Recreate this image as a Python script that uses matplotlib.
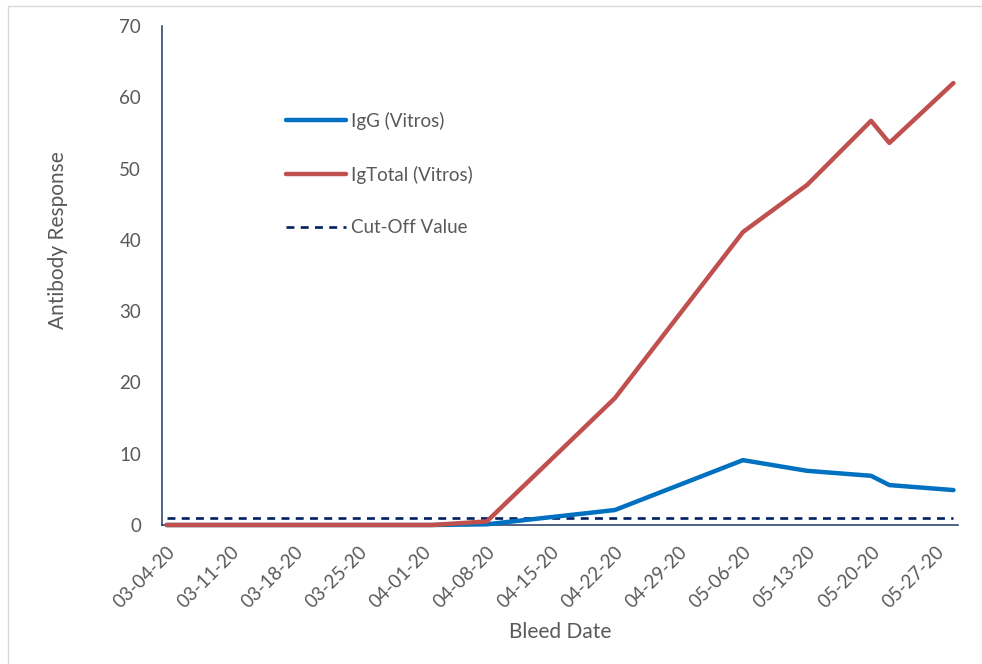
import matplotlib
matplotlib.use("Agg")
import matplotlib.pyplot as plt
import matplotlib.dates as mdates
from matplotlib.patches import Rectangle
import numpy as np

# bleed dates and antibody readings
bleed_dates = ["2020-03-04", "2020-04-02", "2020-04-08", "2020-04-22", "2020-05-06",
               "2020-05-13", "2020-05-20", "2020-05-22", "2020-05-29"]
igg_vitros = [0, 0, 0.1, 2.1, 9.1, 7.6, 6.9, 5.6, 4.9]
igtotal_vitros = [0, 0, 0.5, 17.8, 41.1, 47.7, 56.7, 53.6, 62.0]
cutoff_value = 1.0
tick_start = "2020-03-04"
tick_end = "2020-05-27"

plt.rcParams["font.family"] = ["Lato", "DejaVu Sans"]
txt_color = "#595959"
axis_color = "#1F3864"

dates = np.array(bleed_dates, dtype="datetime64[D]")

fig = plt.figure(figsize=(9.82, 6.64), dpi=100)
ax = fig.add_axes([162 / 982, 1 - 525 / 664, 796 / 982, 499 / 664])

# chart area border
fig.add_artist(Rectangle((8 / 982, -0.1), 1.2, 1.1 - 6 / 664, transform=fig.transFigure,
                         fill=False, edgecolor="#D9D9D9", linewidth=1))

ax.plot(dates, igg_vitros, color="#0070C0", lw=3.2, label="IgG (Vitros)",
        solid_capstyle="round", solid_joinstyle="round", clip_on=False, zorder=3)
ax.plot(dates, igtotal_vitros, color="#C0504D", lw=3.2, label="IgTotal (Vitros)",
        solid_capstyle="round", solid_joinstyle="round", clip_on=False, zorder=4)
ax.plot([dates[0], dates[-1]], [cutoff_value, cutoff_value], color="#002060", lw=1.9,
        linestyle=(0, (3.0, 2.4)), label="Cut-Off Value", zorder=2)

ax.set_ylim(0, 70)
ax.set_yticks(range(0, 71, 10))
ax.set_xlim(dates[0] - np.timedelta64(12, "h"), dates[-1] + np.timedelta64(12, "h"))
ticks = np.arange(np.datetime64(tick_start), np.datetime64(tick_end) + 1, 7)
ax.set_xticks(ticks)
ax.xaxis.set_major_formatter(mdates.DateFormatter("%m-%d-%y"))

for side in ["top", "right"]:
    ax.spines[side].set_visible(False)
for side in ["left", "bottom"]:
    ax.spines[side].set_color(axis_color)
    ax.spines[side].set_linewidth(1.1)

ax.tick_params(axis="both", length=0, colors=txt_color, labelsize=13.5)
ax.tick_params(axis="y", pad=15)
ax.tick_params(axis="x", pad=13)
for lab in ax.get_xticklabels():
    lab.set_rotation(45)
    lab.set_ha("right")
    lab.set_rotation_mode("anchor")

ax.set_xlabel("Bleed Date", color=txt_color, fontsize=15)
ax.xaxis.set_label_coords((560 - 162) / 796, -(632 - 525) / 499)
ax.set_ylabel("Antibody Response", color=txt_color, fontsize=15)
ax.yaxis.set_label_coords((58 - 162) / 796, (525 - 240) / 499)
ax.xaxis.label.set_va("center")
ax.yaxis.label.set_va("center")

leg = ax.legend(loc="upper left", bbox_to_anchor=(107 / 796, 1 - 69 / 499), frameon=False,
                fontsize=13.5, handlelength=3.2, labelspacing=1.9, handletextpad=0.25,
                labelcolor=txt_color)

fig.savefig("out.png", dpi=100)
